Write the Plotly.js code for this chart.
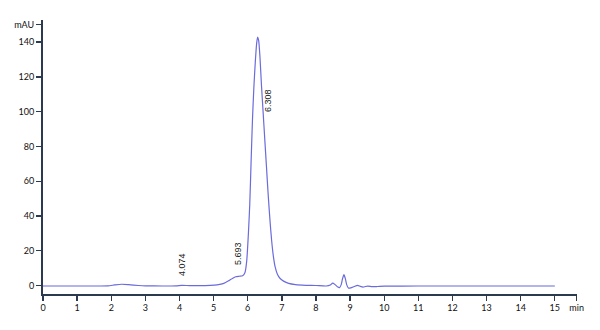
<!DOCTYPE html>
<html>
<head>
<meta charset="utf-8">
<script src="https://cdn.plot.ly/plotly-3.0.1.min.js"></script>
<style>html,body{margin:0;padding:0;background:#fff;}#chart{width:600px;height:330px;}</style>
</head>
<body>
<div id="chart"></div>
<script>
// Retention time (min)
const times = [0, 0.5, 1.0, 1.5, 1.9, 2.1, 2.3, 2.5, 2.8, 3.0, 3.5, 3.9, 4.07, 4.3, 4.6, 4.9, 5.1, 5.3, 5.45, 5.55, 5.65, 5.75, 5.85, 5.92, 5.97, 6.02, 6.06, 6.10, 6.14, 6.18, 6.22, 6.26, 6.29, 6.32, 6.36, 6.40, 6.45, 6.50, 6.55, 6.60, 6.65, 6.70, 6.75, 6.80, 6.87, 6.95, 7.05, 7.2, 7.4, 7.7, 8.0, 8.3, 8.42, 8.49, 8.56, 8.64, 8.69, 8.74, 8.78, 8.82, 8.86, 8.90, 8.95, 9.02, 9.12, 9.22, 9.30, 9.38, 9.45, 9.52, 9.65, 9.8, 10.0, 11, 12, 13, 14, 15];
// Absorbance (mAU)
const absorbance = [-0.3, -0.3, -0.3, -0.3, -0.2, 0.3, 0.7, 0.5, 0.0, -0.2, -0.3, -0.2, 0.1, -0.1, -0.1, 0.1, 0.4, 1.2, 2.8, 4.0, 5.0, 5.3, 5.6, 7.5, 14, 30, 47, 72, 96, 114, 128, 139, 142.8, 141, 131, 116, 100, 84, 68, 52, 38, 26, 17, 11, 6.5, 4, 2.5, 1.2, 0.5, 0.1, 0, -0.3, 0.3, 1.4, 0.5, -0.9, -1.2, 0.5, 4.0, 6.2, 4.0, 0.5, -1.5, -1.4, -0.6, 0.1, -0.5, -0.9, -0.6, -0.4, -0.7, -0.6, -0.4, -0.3, -0.3, -0.3, -0.3, -0.3];

// Peak labels
const peakLabels = ["4.074", "5.693", "6.308"];
const peakLabelX = [4.06, 5.70, 6.575];
const peakLabelY = [4.3, 10.6, 98.6];

// Axis ticks
const xTickVals = [0, 1, 2, 3, 4, 5, 6, 7, 8, 9, 10, 11, 12, 13, 14, 15, 15.64];
const xTickText = ["0", "1", "2", "3", "4", "5", "6", "7", "8", "9", "10", "11", "12", "13", "14", "15", "min"];
const yTickVals = [0, 20, 40, 60, 80, 100, 120, 140, 150];
const yTickText = ["0", "20", "40", "60", "80", "100", "120", "140", "mAU"];

const axisColor = "#2b3a4e";
const tickFont = {family: "Lato, 'Open Sans', sans-serif", size: 9, color: "#111"};

const trace = {
  x: times, y: absorbance, type: "scatter", mode: "lines",
  line: {color: "#6b6bdc", width: 1.2, shape: "spline", smoothing: 0.6},
  hoverinfo: "skip"
};

const annotations = peakLabels.map((t, i) => ({
  x: peakLabelX[i], y: peakLabelY[i], xref: "x", yref: "y",
  text: t, showarrow: false, textangle: -90,
  xanchor: "center", yanchor: "bottom",
  font: {family: "'Liberation Sans', Arial, sans-serif", size: 9, color: "#222"}
}));

const layout = {
  width: 600, height: 330,
  margin: {l: 43, r: 23, t: 20, b: 36},
  paper_bgcolor: "#fff", plot_bgcolor: "#fff",
  showlegend: false,
  xaxis: {
    range: [0, 15.65], tickmode: "array", tickvals: xTickVals, ticktext: xTickText,
    showgrid: false, zeroline: false, showline: true, linecolor: axisColor, linewidth: 2,
    ticks: "outside", ticklen: 5, tickwidth: 1.3, tickcolor: axisColor,
    ticklabelstandoff: -1,
    tickfont: tickFont, fixedrange: true
  },
  yaxis: {
    range: [-4.9, 152.7], tickmode: "array", tickvals: yTickVals, ticktext: yTickText,
    showgrid: false, zeroline: false, showline: true, linecolor: axisColor, linewidth: 2,
    ticks: "outside", ticklen: 5, tickwidth: 1.3, tickcolor: axisColor,
    tickfont: tickFont, fixedrange: true
  },
  annotations: annotations
};

Plotly.newPlot("chart", [trace], layout, {staticPlot: true, displayModeBar: false});
</script>
</body>
</html>
